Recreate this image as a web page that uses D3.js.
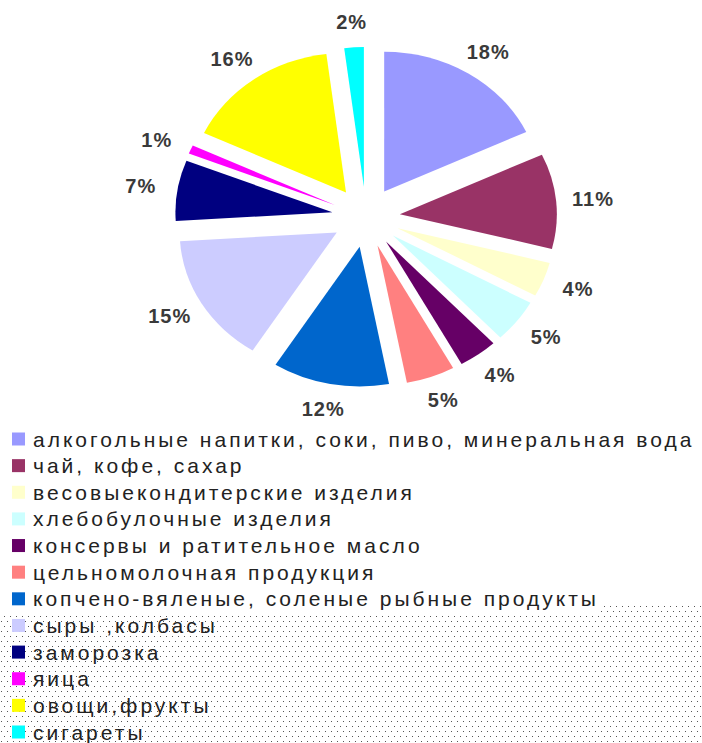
<!DOCTYPE html>
<html>
<head>
<meta charset="utf-8">
<script src="https://cdn.jsdelivr.net/npm/d3@7"></script>
<style>
    body { margin: 0; background: #fff; }
    #chart { width: 702px; height: 743px; }
</style>
</head>
<body>
<div id="chart"></div>
<script>
const categories = [
    "алкогольные напитки, соки, пиво, минеральная вода",
    "чай, кофе, сахар",
    "весовыекондитерские изделия",
    "хлебобулочные изделия",
    "консервы и ратительное масло",
    "цельномолочная продукция",
    "копчено-вяленые, соленые рыбные продукты",
    "сыры ,колбасы",
    "заморозка",
    "яица",
    "овощи,фрукты",
    "сигареты"
];
const shares = [18, 11, 4, 5, 4, 5, 12, 15, 7, 1, 16, 2];
const sliceColors = ["#9999FF", "#993366", "#FFFFCC", "#CCFFFF", "#660066", "#FF8080",
                     "#0066CC", "#CCCCFF", "#000080", "#FF00FF", "#FFFF00", "#00FFFF"];

class ExplodedPie {
    constructor(parentElement, labels, values, colors) {
        this.parentElement = parentElement;
        this.labels = labels;
        this.values = values;
        this.colors = colors;
        this.initVis();
    }

    initVis() {
        let vis = this;

        vis.width = 702;
        vis.height = 743;

        vis.svg = d3.select("#" + vis.parentElement).append("svg")
            .attr("width", vis.width)
            .attr("height", vis.height);

        // the dotted fill that shows behind the lower part of the legend
        let pattern = vis.svg.append("defs").append("pattern")
            .attr("id", "dots")
            .attr("patternUnits", "userSpaceOnUse")
            .attr("width", 6)
            .attr("height", 10);
        pattern.append("rect").attr("x", 1).attr("y", 1).attr("width", 1).attr("height", 1).attr("fill", "#555");
        pattern.append("rect").attr("x", 4).attr("y", 6).attr("width", 1).attr("height", 1).attr("fill", "#555");

        vis.svg.append("rect")
            .attr("x", 600).attr("y", 605)
            .attr("width", 102).attr("height", 12)
            .attr("fill", "url(#dots)");
        vis.svg.append("rect")
            .attr("x", 0).attr("y", 616)
            .attr("width", vis.width).attr("height", vis.height - 616)
            .attr("fill", "url(#dots)");

        vis.center = {x: 366, y: 217};
        vis.radius = 157;
        vis.squash = 0.89;
        vis.explode = 34;
        vis.labelRx = 228;
        vis.labelRy = 195;

        vis.pie = d3.pie().sort(null).value(d => d.value);
        vis.arc = d3.arc().innerRadius(0).outerRadius(vis.radius);

        vis.rows = d3.scalePoint()
            .domain(d3.range(vis.labels.length))
            .range([439, 732]);

        vis.pieGroup = vis.svg.append("g")
            .attr("transform", `translate(${vis.center.x}, ${vis.center.y}) scale(1, ${vis.squash})`);
        vis.labelGroup = vis.svg.append("g");
        vis.legend = vis.svg.append("g");

        vis.wrangleData();
    }

    wrangleData() {
        let vis = this;

        vis.displayData = vis.pie(vis.labels.map((d, i) => ({
            name: d,
            value: vis.values[i],
            color: vis.colors[i]
        })));

        vis.updateVis();
    }

    updateVis() {
        let vis = this;

        let mid = d => (d.startAngle + d.endAngle) / 2;

        vis.pieGroup.selectAll("path")
            .data(vis.displayData)
            .enter().append("path")
            .attr("d", vis.arc)
            .attr("transform", d => `translate(${Math.sin(mid(d)) * vis.explode}, ${-Math.cos(mid(d)) * vis.explode})`)
            .attr("fill", d => d.data.color);

        vis.labelGroup.selectAll("text")
            .data(vis.displayData)
            .enter().append("text")
            .attr("x", d => vis.center.x + Math.sin(mid(d)) * vis.labelRx)
            .attr("y", d => vis.center.y - Math.cos(mid(d)) * vis.labelRy)
            .attr("text-anchor", "middle")
            .attr("dominant-baseline", "central")
            .style("font-family", "'Liberation Sans', Arial, sans-serif")
            .style("font-size", "20px")
            .style("font-weight", "bold")
            .style("letter-spacing", "1px")
            .attr("fill", "#3a3a3a")
            .text(d => d.data.value + "%");

        let items = vis.legend.selectAll("g")
            .data(vis.displayData)
            .enter().append("g")
            .attr("transform", (d, i) => `translate(0, ${vis.rows(i)})`);

        items.append("rect")
            .attr("x", 12)
            .attr("y", -6.5)
            .attr("width", 13)
            .attr("height", 13)
            .attr("fill", d => d.data.color);

        items.append("text")
            .attr("x", 33)
            .attr("dominant-baseline", "central")
            .style("font-family", "'Liberation Sans', Arial, sans-serif")
            .style("font-size", "21px")
            .style("letter-spacing", "3px")
            .attr("fill", "#222")
            .text(d => d.data.name);
    }
}

new ExplodedPie("chart", categories, shares, sliceColors);
</script>
</body>
</html>
